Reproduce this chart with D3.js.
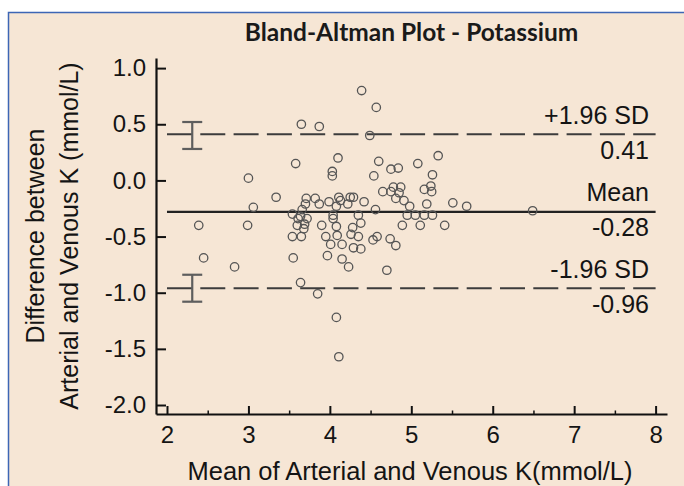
<!DOCTYPE html>
<html>
<head>
<meta charset="utf-8">
<script src="https://cdn.jsdelivr.net/npm/d3@7"></script>
<style>
  html, body { margin: 0; padding: 0; background: #ffffff; }
  svg { display: block; }
</style>
</head>
<body>
<div id="chart"></div>
<script>
// ---- Data ----
const meanValues = [
  4.39, 4.57, 3.65, 3.87, 4.49, 4.10, 3.58, 4.60, 4.03, 4.03,
  3.00, 4.54, 4.75, 4.84, 3.34, 3.06, 2.39, 2.99, 5.33, 5.08,
  5.26, 4.65, 4.75, 4.78, 4.87, 4.85, 5.16, 5.24, 5.25, 4.81,
  4.91, 4.98, 5.19, 5.51, 5.68, 6.49, 4.56, 4.95, 5.05, 5.16,
  5.26, 4.89, 5.11, 5.41, 4.53, 4.74, 4.81, 4.70, 3.71, 3.82,
  3.87, 3.70, 3.66, 3.99, 4.11, 4.13, 4.25, 4.29, 4.22, 4.08,
  4.42, 3.54, 3.61, 3.64, 3.72, 3.69, 3.60, 4.04, 4.04, 4.08,
  3.90, 4.35, 4.38, 4.28, 3.54, 3.65, 3.95, 4.09, 4.26, 4.35,
  4.58, 4.01, 4.15, 4.29, 4.38, 3.55, 3.97, 4.15, 4.23,
  3.64, 3.85, 4.08, 4.11, 2.45, 2.83, 3.68
];
const diffValues = [
   0.80,  0.65,  0.50,  0.48,  0.40,  0.20,  0.15,  0.17,  0.08,  0.04,
   0.02,  0.04,  0.10,  0.11, -0.15, -0.24, -0.40, -0.40,  0.22,  0.15,
   0.05, -0.10, -0.10, -0.06, -0.06, -0.11, -0.08, -0.05, -0.10, -0.16,
  -0.18, -0.23, -0.21, -0.20, -0.23, -0.27, -0.26, -0.31, -0.31, -0.31,
  -0.31, -0.40, -0.40, -0.40, -0.53, -0.52, -0.58, -0.80, -0.16, -0.16,
  -0.21, -0.21, -0.26, -0.19, -0.15, -0.18, -0.15, -0.15, -0.21, -0.23,
  -0.19, -0.30, -0.34, -0.32, -0.34, -0.39, -0.40, -0.31, -0.34, -0.41,
  -0.40, -0.31, -0.38, -0.42, -0.50, -0.50, -0.50, -0.49, -0.48, -0.50,
  -0.50, -0.57, -0.57, -0.60, -0.61, -0.69, -0.67, -0.70, -0.77,
  -0.91, -1.01, -1.22, -1.57, -0.69, -0.77, -0.43
];

const limitNames  = ["+1.96 SD", "Mean", "-1.96 SD"];
const limitValues = [0.41, -0.28, -0.96];
const limitDashed = [true, false, true];

// 95% CI of the limits of agreement (error bars at the left)
const ciX     = 2.31;
const ciLower = [0.28, -1.08];
const ciUpper = [0.52, -0.84];

const xTicks = [2, 3, 4, 5, 6, 7, 8];
const xMinorTicks = [2.5, 3.5, 4.5, 5.5, 6.5, 7.5];
const yTicks = [1.0, 0.5, 0.0, -0.5, -1.0, -1.5, -2.0];

const titleText = "Bland-Altman Plot - Potassium";
const xTitle = "Mean of Arterial and Venous K(mmol/L)";
const yTitleLines = ["Difference between", "Arterial and Venous K (mmol/L)"];

// ---- Layout ----
const W = 684, H = 486;
const font = "'Liberation Sans', Arial, sans-serif";
const ink = "#141414";

const svg = d3.select("#chart").append("svg")
  .attr("width", W).attr("height", H);

// background panel with blue frame
svg.append("rect").attr("x", 0).attr("y", 0).attr("width", W).attr("height", H).attr("fill", "#ffffff");
svg.append("rect")
  .attr("x", 8.5).attr("y", 12.5).attr("width", W + 10).attr("height", H + 10)
  .attr("fill", "#f6e6d5").attr("stroke", "#3d66b5").attr("stroke-width", 1.5);

const x = d3.scaleLinear().domain([1.865, 8.14]).range([156, 667]);
const y = d3.scaleLinear().domain([-2.08, 1.09]).range([414, 58]);

// title
svg.append("text")
  .attr("x", (x.range()[0] + x.range()[1]) / 2).attr("y", 41)
  .attr("text-anchor", "middle")
  .attr("font-family", "Lato, 'Open Sans', sans-serif").attr("font-weight", "bold")
  .attr("font-size", 24.5).attr("fill", "#1a1a1a")
  .text(titleText);

// y axis
const yAxis = d3.axisLeft(y).tickValues(yTicks)
  .tickSizeInner(-10).tickSizeOuter(0).tickPadding(10);
const gy = svg.append("g").attr("transform", `translate(${x.range()[0]},0)`).call(yAxis);
gy.select(".domain").attr("stroke", "#111").attr("stroke-width", 2.2);
gy.selectAll(".tick line").attr("stroke", "#111").attr("stroke-width", 2);
gy.selectAll(".tick text").attr("font-family", font).attr("font-size", 24).attr("fill", ink)
  .text(d => d3.format(".1f")(d).replace("−", "-"));

// x axis
const xAxis = d3.axisBottom(x).tickValues(xTicks).tickFormat(d3.format("d"))
  .tickSizeInner(-8).tickSizeOuter(0).tickPadding(12);
const gx = svg.append("g").attr("transform", `translate(0,${y.range()[0]})`).call(xAxis);
gx.select(".domain").attr("stroke", "#111").attr("stroke-width", 2.2);
gx.selectAll(".tick line").attr("stroke", "#111").attr("stroke-width", 2);
gx.selectAll(".tick text").attr("font-family", font).attr("font-size", 24).attr("fill", ink);
// minor x ticks
const xMinor = d3.axisBottom(x).tickValues(xMinorTicks).tickFormat("").tickSizeInner(-3.5).tickSizeOuter(0);
const gxm = svg.append("g").attr("transform", `translate(0,${y.range()[0]})`).call(xMinor);
gxm.select(".domain").remove();
gxm.selectAll(".tick line").attr("stroke", "#111").attr("stroke-width", 1.5);

// axis titles
svg.append("text")
  .attr("x", 410).attr("y", 480)
  .attr("text-anchor", "middle").attr("font-family", font).attr("font-size", 25.5).attr("fill", ink)
  .text(xTitle);

const yMid = 236;
[44, 78].forEach((bx, i) => {
  svg.append("text")
    .attr("transform", `translate(${bx},${yMid}) rotate(-90)`)
    .attr("text-anchor", "middle").attr("font-family", font).attr("font-size", 25).attr("fill", ink)
    .text(yTitleLines[i]);
});

// reference lines
const lineX0 = x(2), lineX1 = x(8);
limitValues.forEach((v, i) => {
  svg.append("line")
    .attr("x1", lineX0).attr("x2", lineX1).attr("y1", y(v)).attr("y2", y(v))
    .attr("stroke", limitDashed[i] ? "#3c3c3c" : "#222")
    .attr("stroke-width", limitDashed[i] ? 2 : 2.4)
    .attr("stroke-dasharray", limitDashed[i] ? "25,8.3" : null);
  // labels
  svg.append("text")
    .attr("x", 649).attr("y", y(v) - 10.5)
    .attr("text-anchor", "end").attr("font-family", font).attr("font-size", 25).attr("fill", ink)
    .text(limitNames[i]);
  svg.append("text")
    .attr("x", 649).attr("y", y(v) + 24.5)
    .attr("text-anchor", "end").attr("font-family", font).attr("font-size", 25).attr("fill", ink)
    .text(d3.format(".2f")(v).replace("−", "-"));
});

// CI error bars
ciLower.forEach((lo, i) => {
  const hi = ciUpper[i];
  const g = svg.append("g").attr("stroke", "#5e5e5e").attr("stroke-width", 2.2);
  g.append("line").attr("x1", x(ciX)).attr("x2", x(ciX)).attr("y1", y(lo)).attr("y2", y(hi));
  g.append("line").attr("x1", x(ciX) - 10).attr("x2", x(ciX) + 10).attr("y1", y(lo)).attr("y2", y(lo));
  g.append("line").attr("x1", x(ciX) - 10).attr("x2", x(ciX) + 10).attr("y1", y(hi)).attr("y2", y(hi));
});

// points
const pts = meanValues.map((m, i) => ({ m, d: diffValues[i] }));
svg.append("g").selectAll("circle").data(pts).join("circle")
  .attr("cx", p => x(p.m)).attr("cy", p => y(p.d)).attr("r", 4.2)
  .attr("fill", "none").attr("stroke", "#555").attr("stroke-width", 1.3);
</script>
</body>
</html>
